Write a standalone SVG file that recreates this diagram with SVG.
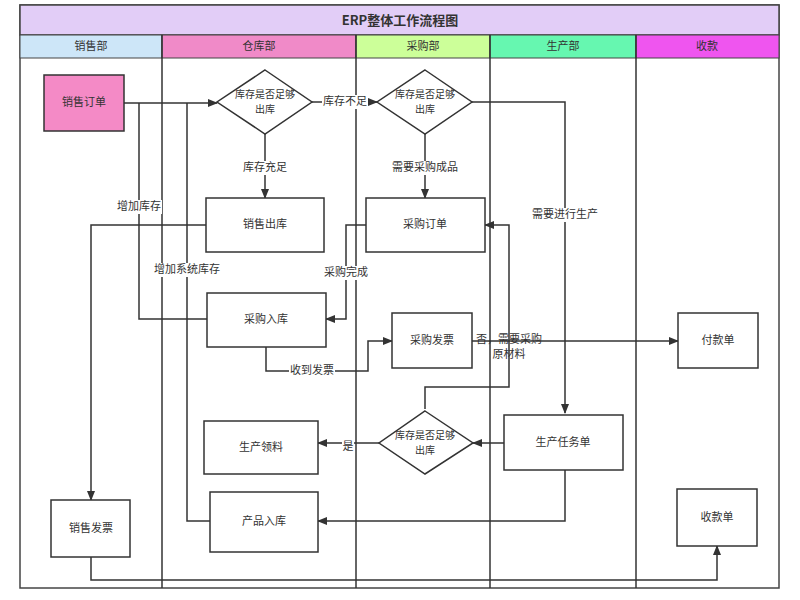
<svg xmlns="http://www.w3.org/2000/svg" width="800" height="600" viewBox="0 0 800 600">
<defs>
<marker id="a" markerWidth="10" markerHeight="8" refX="9" refY="4" orient="auto" markerUnits="userSpaceOnUse"><path d="M0,0 L10,4 L0,8 Z" fill="#333"/></marker>
<style>
text{font-family:"Noto Sans CJK SC","Liberation Sans",sans-serif;font-size:11px;fill:#333;text-anchor:middle;dominant-baseline:middle}
.d{font-size:10px}
.n{fill:#fff;stroke:#333;stroke-width:1.5}
.c{fill:none;stroke:#333;stroke-width:1.5}
.ar{marker-end:url(#a)}
.lbl{fill:#fff}
.lane{stroke:#333;stroke-width:1.5}
</style>
</defs>
<rect x="0" y="0" width="800" height="600" fill="#fff"/>
<g id="pool">
<rect x="20" y="5" width="759" height="583" fill="none" stroke="#444" stroke-width="1.5"/>
<rect x="20" y="5" width="759" height="30" fill="#e2cdf7" stroke="#444" stroke-width="1.5"/>
<text x="400" y="21" style="font-size:13px;font-weight:bold">ERP整体工作流程图</text>
<rect x="20" y="35" width="142" height="23" fill="#cde6f8" stroke="#444"/>
<rect x="162" y="35" width="194" height="23" fill="#f08ac8" stroke="#444"/>
<rect x="356" y="35" width="134" height="23" fill="#ccff99" stroke="#444"/>
<rect x="490" y="35" width="146" height="23" fill="#66f7b0" stroke="#444"/>
<rect x="636" y="35" width="143" height="23" fill="#ef55ef" stroke="#444"/>
<text x="91" y="47">销售部</text><text x="259" y="47">仓库部</text><text x="423" y="47">采购部</text><text x="563" y="47">生产部</text><text x="707" y="47">收款</text>
<line class="lane" x1="162" y1="35" x2="162" y2="588"/>
<line class="lane" x1="356" y1="35" x2="356" y2="588"/>
<line class="lane" x1="490" y1="35" x2="490" y2="588"/>
<line class="lane" x1="636" y1="35" x2="636" y2="588"/>
</g>
<g id="connectors">
<path class="c ar" d="M124,103 H217"/>
<path class="c ar" d="M312,102 H377"/>
<rect class="lbl" x="322" y="95" width="46" height="14"/><text x="345" y="102">库存不足</text>
<path class="c ar" d="M472,102 H565 V413"/>
<rect class="lbl" x="532" y="208" width="66" height="14"/><text x="565" y="215">需要进行生产</text>
<path class="c ar" d="M265,134 V198"/>
<rect class="lbl" x="242" y="161" width="46" height="14"/><text x="265" y="168">库存充足</text>
<path class="c ar" d="M425,134 V198"/>
<rect class="lbl" x="394" y="161" width="62" height="14"/><text x="425" y="168">需要采购成品</text>
<path class="c ar" d="M206,225 H91 V500"/>
<path class="c ar" d="M366,225 H346 V319 H326"/>
<rect class="lbl" x="323" y="266" width="46" height="14"/><text x="346" y="273">采购完成</text>
<path class="c" d="M207,319 H139 V103"/>
<rect class="lbl" x="116" y="200" width="46" height="14"/><text x="139" y="207">增加库存</text>
<path class="c ar" d="M266,347 V371 H368 V341 H392"/>
<rect class="lbl" x="289" y="364" width="46" height="14"/><text x="312" y="371">收到发票</text>
<path class="c ar" d="M472,341 H678"/>
<path class="c ar" d="M425,409 V387 H509 V225 H485"/>
<text x="509" y="340">否，需要采购</text>
<text x="509" y="355">原材料</text>
<path class="c ar" d="M504,443 H473"/>
<path class="c ar" d="M379,443 H318"/>
<rect class="lbl" x="342" y="440" width="12" height="14"/><text x="348" y="447">是</text>
<path class="c ar" d="M565,470 V521 H318"/>
<path class="c" d="M210,521 H187 V103"/>
<rect class="lbl" x="154" y="263" width="66" height="14"/><text x="187" y="270">增加系统库存</text>
<path class="c ar" d="M91,557 V580 H717 V546"/>
</g>
<g id="n1"><rect x="44" y="75" width="80" height="56" fill="#f48ac6" stroke="#333" stroke-width="1.5"/><text x="84" y="103">销售订单</text></g>
<g id="n2"><polygon class="n" points="265,70 312,102 265,134 217,102"/><text class="d" x="265" y="95">库存是否足够</text><text class="d" x="265" y="110">出库</text></g>
<g id="n3"><polygon class="n" points="425,70 472,102 425,134 377,102"/><text class="d" x="425" y="95">库存是否足够</text><text class="d" x="425" y="110">出库</text></g>
<g id="n4"><rect class="n" x="206" y="198" width="118" height="54"/><text x="265" y="225">销售出库</text></g>
<g id="n5"><rect class="n" x="366" y="198" width="119" height="54"/><text x="425" y="225">采购订单</text></g>
<g id="n6"><rect class="n" x="207" y="293" width="119" height="54"/><text x="266" y="320">采购入库</text></g>
<g id="n7"><rect class="n" x="392" y="313" width="80" height="55"/><text x="432" y="341">采购发票</text></g>
<g id="n8"><rect class="n" x="678" y="313" width="80" height="55"/><text x="718" y="341">付款单</text></g>
<g id="n9"><polygon class="n" points="425,411 473,443 425,474 379,443"/><text class="d" x="425" y="436">库存是否足够</text><text class="d" x="425" y="451">出库</text></g>
<g id="n10"><rect class="n" x="504" y="415" width="119" height="55"/><text x="563" y="443">生产任务单</text></g>
<g id="n11"><rect class="n" x="204" y="421" width="114" height="53"/><text x="261" y="448">生产领料</text></g>
<g id="n12"><rect class="n" x="210" y="492" width="108" height="60"/><text x="264" y="522">产品入库</text></g>
<g id="n13"><rect class="n" x="51" y="500" width="79" height="57"/><text x="91" y="529">销售发票</text></g>
<g id="n14"><rect class="n" x="677" y="489" width="80" height="57"/><text x="717" y="518">收款单</text></g>
</svg>
